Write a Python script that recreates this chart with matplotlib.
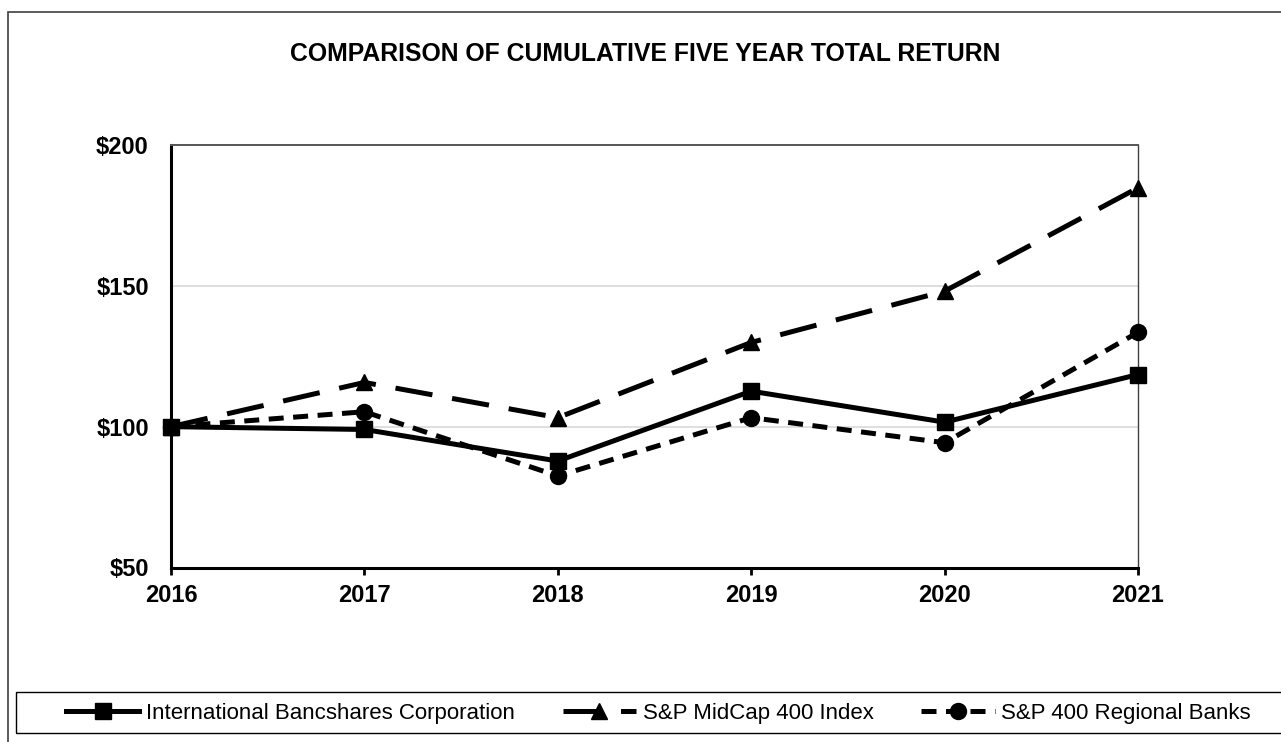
import matplotlib
matplotlib.use('Agg')
import matplotlib.pyplot as plt
from matplotlib.patches import Rectangle

# ---- data ----
years = [2016, 2017, 2018, 2019, 2020, 2021]
ibc = [100.0, 99.0, 87.8, 112.6, 101.6, 118.5]
midcap = [100.0, 115.7, 103.2, 129.9, 148.1, 184.8]
regional = [100.0, 105.3, 82.5, 103.2, 94.3, 133.5]
series_names = ['International Bancshares Corporation',
                'S&P MidCap 400 Index',
                'S&P 400 Regional Banks']
y_ticks = [50, 100, 150, 200]
y_labels = ['\\$50', '\\$100', '\\$150', '\\$200']
title = 'COMPARISON OF CUMULATIVE FIVE YEAR TOTAL RETURN'

plt.rcParams['font.family'] = ['Liberation Sans', 'DejaVu Sans']

W, H = 1281, 742
fig = plt.figure(figsize=(W / 100, H / 100), dpi=100)

# outer border (extends past right/bottom edges)
fig.patches.append(Rectangle((8 / W, -0.1), 1.2, 1 - 12 / H + 0.1,
                             transform=fig.transFigure, fill=False,
                             edgecolor='#404040', linewidth=1.2, clip_on=False))
# legend box
fig.patches.append(Rectangle((16 / W, 1 - 733 / H), 1.2, 41 / H,
                             transform=fig.transFigure, fill=False,
                             edgecolor='black', linewidth=1.0, clip_on=False))

left, right, top, bottom = 171 / W, 1138 / W, 1 - 145 / H, 1 - 567.5 / H
ax = fig.add_axes([left, bottom, right - left, top - bottom])

lw = 3.6
ax.plot(years, ibc, color='black', lw=lw, linestyle='-', marker='s',
        markersize=11.5, label=series_names[0], clip_on=False, zorder=3)
ax.plot(years, midcap, color='black', lw=lw, linestyle=(0, (7.5, 4)),
        marker='^', markersize=12, label=series_names[1], clip_on=False, zorder=3)
ax.plot(years, regional, color='black', lw=lw, linestyle=(0, (3.0, 1.9)),
        marker='o', markersize=11.5, label=series_names[2], clip_on=False, zorder=3)

ax.set_xlim(2016, 2021)
ax.set_ylim(50, 200)
ax.set_xticks(years)
ax.set_xticklabels([str(y) for y in years], fontsize=17, fontweight='bold')
ax.set_yticks(y_ticks)
ax.set_yticklabels(y_labels, fontsize=17, fontweight='bold')
ax.tick_params(axis='y', length=0, pad=16)
ax.tick_params(axis='x', direction='out', length=5, width=2, pad=7)

for v in [100, 150]:
    ax.axhline(v, color='#d9d9d9', lw=1.2, zorder=1)

ax.spines['left'].set_linewidth(2.2)
ax.spines['bottom'].set_linewidth(2.2)
ax.spines['left'].set_color('black')
ax.spines['bottom'].set_color('black')
ax.spines['top'].set_color('#555555')
ax.spines['top'].set_linewidth(1.4)
ax.spines['right'].set_color('#404040')
ax.spines['right'].set_linewidth(1.0)

fig.text(645 / W, 1 - 54 / H, title, ha='center', va='center',
         fontsize=17.8, fontweight='bold')

handles, labels = ax.get_legend_handles_labels()
fig.legend(handles, labels, loc='center', bbox_to_anchor=(658.5 / W, 1 - 713 / H),
           ncol=3, frameon=False, fontsize=16, handlelength=3.3,
           handletextpad=0.3, columnspacing=2.15, borderaxespad=0, borderpad=0)

fig.savefig('out.png', dpi=100)
